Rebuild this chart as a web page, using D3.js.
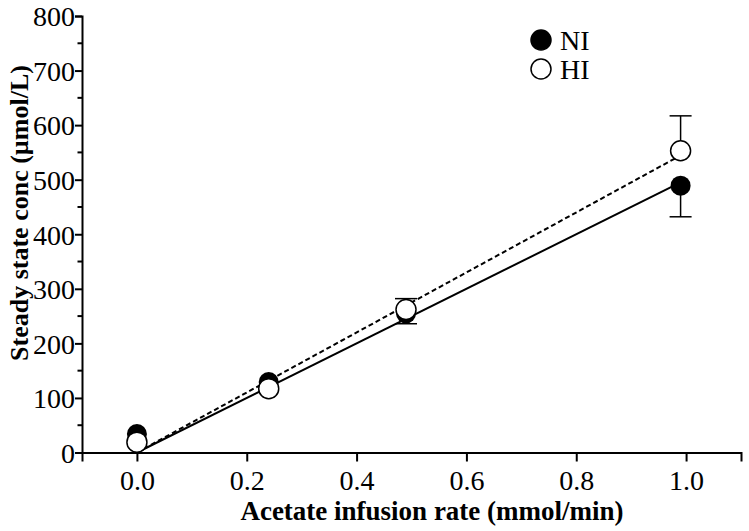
<!DOCTYPE html>
<html><head><meta charset="utf-8">
<script src="https://cdn.jsdelivr.net/npm/d3@7"></script>
<style>body{margin:0;background:#fff;} svg{display:block;} text{font-family:"Liberation Serif","Times New Roman",serif;}</style>
</head><body>
<svg id="chart" width="749" height="531"></svg>
<script>
const rates = [0.0, 0.24, 0.49, 0.99];
const niMean = [34, 129, 255, 489];
const niErr = [0, 0, 19, 57];
const hiMean = [19, 117, 262, 553];
const hiErr = [0, 0, 20, 64];
const niSlope = 500;
const hiSlope = 550;
const xTicks = [0.0, 0.2, 0.4, 0.6, 0.8, 1.0];
const yTicks = [0, 100, 200, 300, 400, 500, 600, 700, 800];
const yMinor = [50, 150, 250, 350, 450, 550, 650, 750];
const seriesNames = ["NI", "HI"];

const svg = d3.select("#chart");
const font = '"Liberation Serif","Times New Roman",serif';
const x = d3.scaleLinear().domain([-0.1, 1.1]).range([82, 741]);
const y = d3.scaleLinear().domain([0, 800]).range([452.5, 16]);

// axes
const xAxis = d3.axisBottom(x).tickValues(xTicks).tickFormat(d3.format(".1f")).tickSizeOuter(0).tickSize(9).tickPadding(9);
const gx = svg.append("g").attr("transform", `translate(0,${y(0)})`).call(xAxis);
const yAxis = d3.axisLeft(y).tickValues(yTicks).tickFormat(d3.format("d")).tickSizeOuter(0).tickSize(7).tickPadding(0);
const gy = svg.append("g").attr("transform", `translate(${x(-0.1)},0)`).call(yAxis);
gy.selectAll(".minor").data(yMinor).enter().append("line").attr("class","minor")
  .attr("x1", 0).attr("x2", -4.5).attr("y1", d => y(d)).attr("y2", d => y(d))
  .attr("stroke", "#000").attr("stroke-width", 2);
[gx, gy].forEach(g => {
  g.attr("font-family", null).attr("font-size", null);
  g.select(".domain").attr("stroke", "#000").attr("stroke-width", 2);
  g.selectAll(".tick line").attr("stroke", "#000").attr("stroke-width", 2);
  g.selectAll(".tick text").style("font-family", font).style("font-size", "28px").attr("fill", "#000");
});
gy.selectAll(".tick text").attr("dy", "0.35em");

// titles
svg.append("text").attr("x", 432).attr("y", 520).attr("text-anchor","middle")
  .style("font-family", font).attr("font-weight","bold").style("font-size", "27px").text("Acetate infusion rate (mmol/min)");
svg.append("text").attr("transform", `translate(28,213) rotate(-90)`).attr("text-anchor","middle")
  .style("font-family", font).attr("font-weight","bold").style("font-size", "26px").text("Steady state conc (µmol/L)");

// regression lines
const xEnd = rates[rates.length-1];
svg.append("line").attr("x1", x(0)).attr("y1", y(0)).attr("x2", x(xEnd)).attr("y2", y(niSlope*xEnd))
  .attr("stroke","#000").attr("stroke-width",2);
svg.append("line").attr("x1", x(0)).attr("y1", y(0)).attr("x2", x(xEnd)).attr("y2", y(hiSlope*xEnd))
  .attr("stroke","#000").attr("stroke-width",2).attr("stroke-dasharray","5,3");

// error bars
function errBars(means, errs, dir) {
  rates.forEach((r, i) => {
    if (!errs[i]) return;
    const v = means[i] + dir*errs[i];
    svg.append("line").attr("x1", x(r)).attr("x2", x(r)).attr("y1", y(means[i])).attr("y2", y(v))
      .attr("stroke","#000").attr("stroke-width",1.5);
    svg.append("line").attr("x1", x(r)-11).attr("x2", x(r)+11).attr("y1", y(v)).attr("y2", y(v))
      .attr("stroke","#000").attr("stroke-width",1.5);
  });
}
errBars(niMean, niErr, -1);
errBars(hiMean, hiErr, 1);

// points
const R = 10;
svg.selectAll(".ni").data(rates).enter().append("circle").attr("class","ni")
  .attr("cx", d => x(d)).attr("cy", (d,i) => y(niMean[i])).attr("r", R).attr("fill","#000");
svg.selectAll(".hi").data(rates).enter().append("circle").attr("class","hi")
  .attr("cx", d => x(d)).attr("cy", (d,i) => y(hiMean[i])).attr("r", R).attr("fill","#fff").attr("stroke","#000").attr("stroke-width",1.5);

// legend
const lg = svg.append("g");
seriesNames.forEach((n, i) => {
  const cy = 40 + i*29;
  lg.append("circle").attr("cx", 541).attr("cy", cy).attr("r", R)
    .attr("fill", i === 0 ? "#000" : "#fff").attr("stroke","#000").attr("stroke-width",1.5);
  lg.append("text").attr("x", 560).attr("y", cy).attr("dy","0.35em")
    .style("font-family", font).style("font-size", "28px").text(n);
});
</script>
</body></html>
